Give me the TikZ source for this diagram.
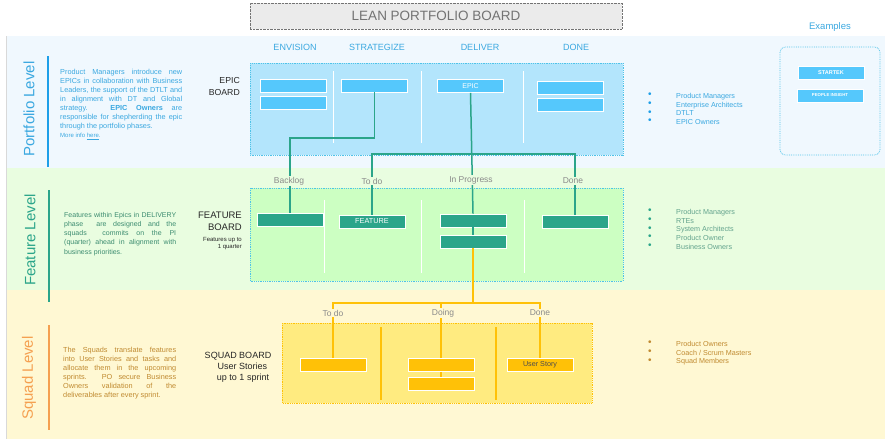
\documentclass[tikz,border=0pt]{standalone}
\usepackage{fontspec}
\setmainfont{Liberation Sans}
\usetikzlibrary{positioning}

\definecolor{pband}{HTML}{F0F8FE}
\definecolor{fband}{HTML}{E9FDE0}
\definecolor{sband}{HTML}{FFF8D3}
\definecolor{pboard}{HTML}{B3E5FC}
\definecolor{fboard}{HTML}{CCFFC2}
\definecolor{sboard}{HTML}{FFEB80}
\definecolor{pcard}{HTML}{55C8FC}
\definecolor{fcard}{HTML}{2BA58A}
\definecolor{scard}{HTML}{FFC107}
\definecolor{ptext}{HTML}{3AA8E0}
\definecolor{ftext}{HTML}{3C8C70}
\definecolor{stext}{HTML}{C08A30}
\definecolor{pbar}{HTML}{1E9FE8}
\definecolor{sbar}{HTML}{F5A050}
\definecolor{lbl}{HTML}{8A8A8A}
\definecolor{dotline}{HTML}{4FC3E8}

\tikzset{
  board/.style = {draw = dotline, densely dotted, line width = 0.8pt},
  card/.style = {draw = white, line width = 0.8pt, minimum width = 66pt, minimum height = 13pt, inner sep = 0pt},
  sep/.style = {draw = white, line width = 1pt},
  colhead/.style = {text = ptext, font = \fontsize{9}{10}\selectfont},
  phase/.style = {text = lbl, font = \fontsize{8.5}{9}\selectfont, inner sep = 1pt},
  level/.style = {rotate = 90, font = \fontsize{15}{17}\selectfont},
  desc/.style = {text width = #1, align = justify, font = \fontsize{7.3}{9}\selectfont, inner sep = 0pt, anchor = north west},
  boardname/.style = {align = right, font = \fontsize{8.7}{12}\selectfont, text = black!85, inner sep = 0pt, anchor = north east},
  blist/.style = {align = left, font = \fontsize{7.2}{8.7}\selectfont, inner sep = 0pt, anchor = north west},
  bdots/.style = {align = left, font = \fontsize{10}{8.7}\selectfont, inner sep = 0pt, anchor = north west},
  gline/.style = {draw = fcard, line width = 1.5pt},
  yline/.style = {draw = scard, line width = 1.5pt}
}

\begin{document}
\begin{tikzpicture}[x = 1pt, y = -1pt]
        \useasboundingbox (0,0) rectangle (885,439);

        % bands
        \fill[pband] (7,36) rectangle (885,168);
        \fill[fband] (7,168) rectangle (885,290);
        \fill[sband] (7,290) rectangle (885,439);
        \draw[black!15, line width = 0.8pt] (6,36) -- (6,439);

        % title
        \node[draw = black!55, densely dotted, fill = black!8, minimum width = 372pt, minimum height = 26pt, text = black!55, font = \fontsize{13.5}{15}\selectfont] (title) at (436,16) {LEAN PORTFOLIO BOARD};

        % level names
        \node[level, text = ptext] (plevel) at (29,109) {Portfolio Level};
        \node[level, text = fcard] (flevel) at (30,240) {Feature Level};
        \node[level, text = sbar] (slevel) at (29,378) {Squad Level};
        \draw[pbar, line width = 1.3pt] (48,56) -- (48,167);
        \draw[fcard, line width = 1.3pt] (49,190) -- (49,302);
        \draw[sbar, line width = 1.3pt] (49,325) -- (49,430);

        % descriptions
        \node[desc = 122pt, text = ptext] (pdesc) at (60,69) {Product Managers introduce new\linebreak EPICs in collaboration with Business\linebreak Leaders, the support of the DTLT and\linebreak in alignment with DT and Global\linebreak strategy. \textbf{EPIC Owners} are\linebreak responsible for shepherding the epic\linebreak through the portfolio phases.\par{\fontsize{6}{8}\selectfont More info \underline{here}.}};
        \node[desc = 112pt, text = ftext, font = \fontsize{7}{9.2}\selectfont] (fdesc) at (64,212) {Features within Epics in DELIVERY\linebreak phase\ \ are designed and the\linebreak squads\ \ commits on the PI\linebreak (quarter) ahead in alignment with\linebreak business priorities.};
        \node[desc = 113pt, text = stext] (sdesc) at (63,347) {The Squads translate features\linebreak into User Stories and tasks and\linebreak allocate them in the upcoming\linebreak sprints. PO secure Business\linebreak Owners validation of the\linebreak deliverables after every sprint.};

        % board names
        \node[boardname] (pname) at (240,77) {EPIC\\BOARD};
        \node[boardname, font = \fontsize{9.5}{12}\selectfont] (fname) at (242,212) {FEATURE\\BOARD};
        \node[boardname, font = \fontsize{6}{7.5}\selectfont] (fnote) at (242,237) {Features up to\\1 quarter};
        \node[align = center, font = \fontsize{9}{11}\selectfont, text = black!85, inner sep = 0pt] (sname) at (238,367) {SQUAD BOARD\\\hspace*{9pt}User Stories\\\hspace*{10pt}up to 1 sprint};

        % epic board
        \node[colhead] (henv) at (295,47) {ENVISION};
        \node[colhead] (hstr) at (377,47) {STRATEGIZE};
        \node[colhead] (hdel) at (480,47) {DELIVER};
        \node[colhead] (hdone) at (576,47) {DONE};
        \filldraw[board, fill = pboard] (250,63) rectangle (623,155);
        \draw[sep] (333,71) -- (333,143);
        \draw[sep] (421,71) -- (421,143);
        \draw[sep] (523,71) -- (523,143);
        \node[card, fill = pcard] (ee1) at (293,85.5) {};
        \node[card, fill = pcard] (ee2) at (293,102.5) {};
        \node[card, fill = pcard] (es1) at (374.5,85.5) {};
        \node[card, fill = pcard, text = white, font = \fontsize{7}{8}\selectfont] (ed1) at (470.5,86) {EPIC};
        \node[card, fill = pcard] (en1) at (570.5,87.5) {};
        \node[card, fill = pcard] (en2) at (570.5,104.5) {};

        % feature board
        \filldraw[board, fill = fboard] (250,188) rectangle (623,281);
        \draw[sep] (324,200) -- (324,273);
        \draw[sep] (421,200) -- (421,273);
        \draw[sep] (524,200) -- (524,273);
        \node[card, fill = fcard] (fb1) at (290,219.5) {};
        \node[card, fill = fcard, text = white, font = \fontsize{7.3}{8}\selectfont] (ft1) at (372,221.5) {FEATURE};
        \node[card, fill = fcard] (fi1) at (473,220.5) {};
        \node[card, fill = fcard] (fi2) at (473,241.5) {};
        \node[card, fill = fcard] (fd1) at (575,221.5) {};

        % squad board
        \filldraw[board, draw = scard, fill = sboard] (282,323) rectangle (592,403);
        \draw[sep, draw = scard, line width = 1.2pt] (381,327) -- (381,400);
        \draw[sep, draw = scard, line width = 1.2pt] (496,327) -- (496,400);
        \node[card, fill = scard] (st1) at (333,365) {};
        \node[card, fill = scard] (sg1) at (441,365) {};
        \node[card, fill = scard] (sg2) at (441,384) {};
        \node[card, fill = scard, text = black!70, font = \fontsize{7.2}{8}\selectfont] (sd1) at (540,365) {User Story};

        % epic -> feature
        \draw[gline] (es1.south) -- (es1.south |- 0,138) -| (fb1.north);
        \draw[gline] (ed1.south) -- (fi1.north);
        \draw[gline] (ft1.north) |- (ed1.south |- 0,154) -| (fd1.north);
        \draw[gline] (fi1.south) -- (fi2.north);

        % feature -> squad
        \draw[yline] (fi2.south) -- (fi2.south |- 0,303);
        \draw[yline] (st1.north) |- (fi2.south |- 0,303) -| (sd1.north);
        \draw[yline] (sg1.north) -- (sg1.north |- 0,303);
        \draw[yline] (sg1.south) -- (sg2.north);

        % phase labels
        \node[phase, fill = fband] (lback) at (289,181) {Backlog};
        \node[phase, fill = fband] (ltodo) at (372,181) {To do};
        \node[phase, fill = fband] (lprog) at (471,180) {In Progress};
        \node[phase, fill = fband] (ldone) at (573,181) {Done};
        \node[phase, fill = sband] (stodo) at (333,313) {To do};
        \node[phase, fill = sband] (sdoing) at (443,313) {Doing};
        \node[phase, fill = sband] (sdone) at (540,313) {Done};

        % roles
        \node[bdots, text = pbar] (pdots) at (648,93) {•\\•\\•\\•};
        \node[blist, text = ptext] (proles) at (676,93) {Product Managers\\Enterprise Architects\\DTLT\\EPIC Owners};
        \node[bdots, text = fcard] (fdots) at (648,209) {•\\•\\•\\•\\•};
        \node[blist, text = ftext!80] (froles) at (676,209) {Product Managers\\RTEs\\System Architects\\Product Owner\\Business Owners};
        \node[bdots, text = stext] (sdots) at (648,341) {•\\•\\•};
        \node[blist, text = stext] (sroles) at (676,341) {Product Owners\\Coach / Scrum Masters\\Squad Members};

        % examples
        \node[text = ptext, font = \fontsize{9.5}{10}\selectfont] (exhead) at (830,27) {Examples};
        \draw[draw = dotline, densely dotted, line width = 0.8pt, rounded corners = 5pt] (780,47) rectangle (880,155);
        \node[card, fill = pcard, text = white, font = \bfseries\fontsize{5.5}{6}\selectfont] (ex1) at (831,73) {STARTEK};
        \node[card, fill = pcard, text = white, font = \bfseries\fontsize{4.3}{5}\selectfont] (ex2) at (830,95.5) {PEOPLE INSIGHT};
\end{tikzpicture}
\end{document}
